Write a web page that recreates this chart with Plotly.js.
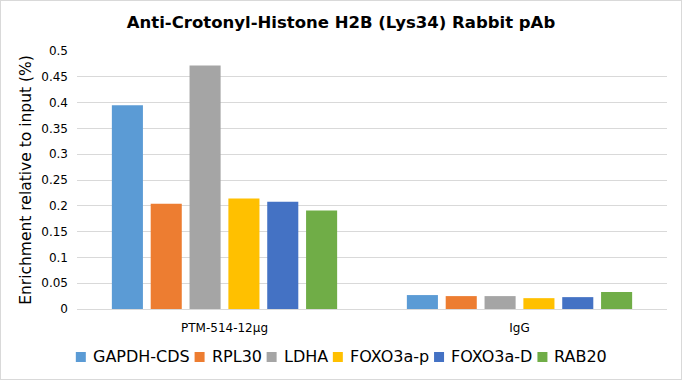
<!DOCTYPE html>
<html>
<head>
<meta charset="utf-8">
<script src="https://cdn.plot.ly/plotly-3.0.1.min.js"></script>
<style>
html,body{margin:0;padding:0;background:#fff;}
#chart{width:680px;height:378px;border:1px solid #d9d9d9;}
</style>
</head>
<body>
<div id="chart"></div>
<script>
const categories = ["PTM-514-12μg", "IgG"];
const seriesNames = ["GAPDH-CDS", "RPL30", "LDHA", "FOXO3a-p", "FOXO3a-D", "RAB20"];
const gapdh = [0.395, 0.027];
const rpl30 = [0.204, 0.025];
const ldha = [0.472, 0.025];
const foxo3aP = [0.214, 0.021];
const foxo3aD = [0.208, 0.023];
const rab20 = [0.191, 0.033];
const colors = ["#5b9bd5", "#ed7d31", "#a5a5a5", "#ffc000", "#4472c4", "#70ad47"];
const yTicks = [0, 0.05, 0.1, 0.15, 0.2, 0.25, 0.3, 0.35, 0.4, 0.45, 0.5];
const yTickLabels = ["0", "0.05", "0.1", "0.15", "0.2", "0.25", "0.3", "0.35", "0.4", "0.45", "0.5"];

const values = [gapdh, rpl30, ldha, foxo3aP, foxo3aD, rab20];
const font = "DejaVu Sans, Verdana, sans-serif";
const W = 680, H = 378;
const M = {l: 76, r: 14, t: 50, b: 70};
const plotW = W - M.l - M.r, plotH = H - M.t - M.b;

const traces = seriesNames.map((n, i) => ({
  type: "bar", name: n, x: categories, y: values[i],
  marker: {color: colors[i]}, hoverinfo: "none"
}));

// custom legend (Excel-like compact spacing)
const legFont = 16, sw = 10, gapSym = 6, gapItem = 6, legCenterX = 340, legCenterY = 356;
const ctx = document.createElement("canvas").getContext("2d");
ctx.font = legFont + "px 'DejaVu Sans'";
const tw = seriesNames.map(n => ctx.measureText(n).width);
const total = tw.reduce((a, w) => a + sw + gapSym + w, 0) + gapItem * (seriesNames.length - 1);
const px2x = p => (p - M.l) / plotW;
const px2y = p => (H - M.b - p) / plotH;
const shapes = [], annotations = [];
let cx = legCenterX - total / 2;
seriesNames.forEach((n, i) => {
  shapes.push({type: "rect", xref: "paper", yref: "paper", x0: px2x(cx), x1: px2x(cx + sw), y0: px2y(legCenterY + sw / 2), y1: px2y(legCenterY - sw / 2), fillcolor: colors[i], line: {width: 0}});
  annotations.push({xref: "paper", yref: "paper", x: px2x(cx + sw + gapSym), y: px2y(legCenterY), xanchor: "left", yanchor: "middle", text: n, showarrow: false, font: {size: legFont, family: font, color: "#000"}, borderpad: 0});
  cx += sw + gapSym + tw[i] + gapItem;
});

const layout = {
  width: W, height: H,
  margin: M,
  paper_bgcolor: "#fff", plot_bgcolor: "#fff",
  font: {family: font, color: "#000"},
  title: {text: "<b>Anti-Crotonyl-Histone H2B (Lys34) Rabbit pAb</b>", font: {size: 16.5, family: font, color: "#000"}, x: 0.5, xref: "container", xanchor: "center", y: 1 - 21 / H, yref: "container", yanchor: "middle"},
  barmode: "group", bargap: 0.21, bargroupgap: 0.2,
  xaxis: {showgrid: false, showline: true, linecolor: "#d9d9d9", linewidth: 1, ticks: "", ticklabelstandoff: 8, tickfont: {size: 12, family: font, color: "#000"}},
  yaxis: {range: [0, 0.5], tickvals: yTicks, ticktext: yTickLabels, showgrid: true, gridcolor: "#d9d9d9", gridwidth: 1, zeroline: false, showline: false, ticks: "", ticklen: 0, ticklabelstandoff: 8, tickfont: {size: 12, family: font, color: "#000"},
    title: {text: "Enrichment relative to input (%)", font: {size: 15.5, family: font, color: "#000"}, standoff: 5}},
  showlegend: false,
  shapes: shapes,
  annotations: annotations
};
Plotly.newPlot("chart", traces, layout, {displayModeBar: false, staticPlot: true});
</script>
</body>
</html>
